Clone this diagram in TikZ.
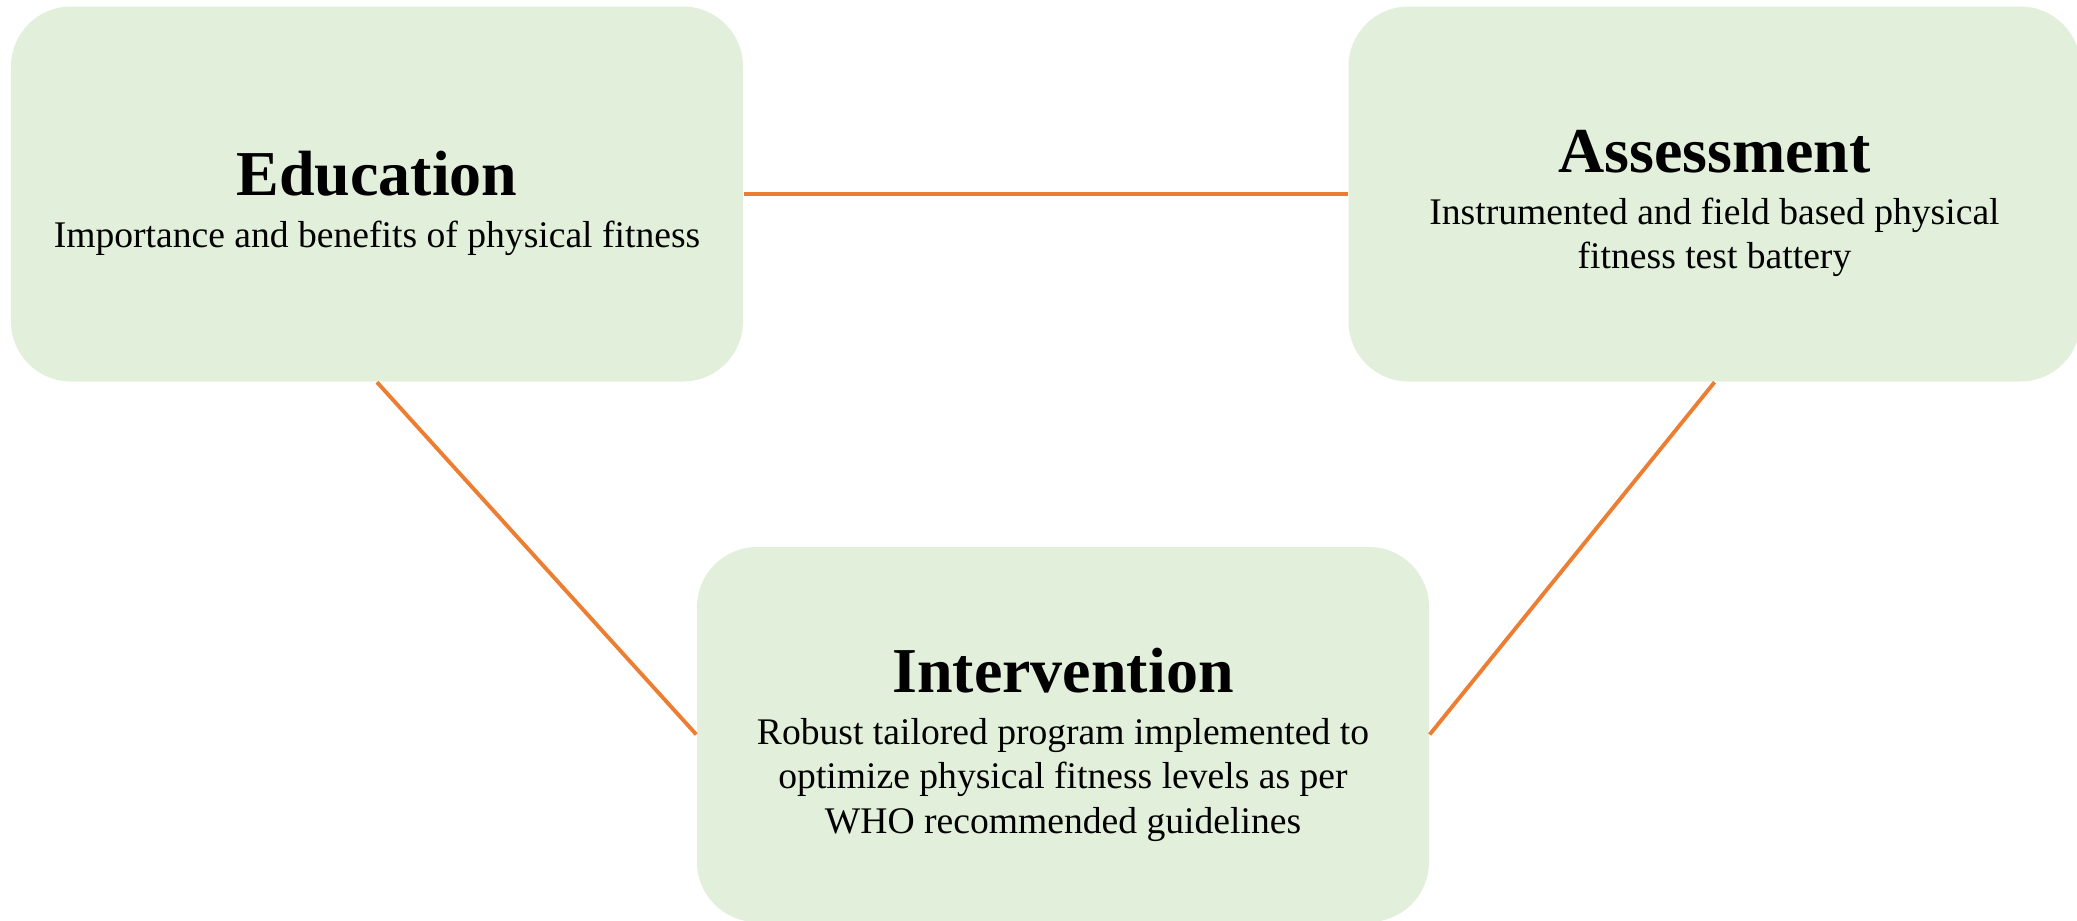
\documentclass[tikz,border=0pt]{standalone}
\usepackage{fontspec}
\setmainfont{Liberation Serif}
\usepackage{tikz}
\definecolor{cardfill}{HTML}{E2EFDA}
\definecolor{linkorange}{HTML}{ED7D31}
\newcommand{\cardtitle}{\fontsize{18.2}{22}\selectfont\bfseries}
\tikzset{
  card/.style     = {draw=none, fill=cardfill, rounded corners=0.6cm,
                     minimum width=7.32cm, minimum height=3.75cm},
  cardtext/.style = {align=center, inner sep=0pt,
                     font=\fontsize{10.7}{12.6}\selectfont},
  linkln/.style   = {linkorange, line width=1.1pt}
}

\begin{document}
\begin{tikzpicture}
  \useasboundingbox (0,0) rectangle (20.77,-9.2);
  % the three cards
  \node[card] (edu)    at (3.77,-1.94)   {};
  \node[card] (assess) at (17.145,-1.94) {};
  \node[card] (interv) at (10.63,-7.345) {};
  % text sits a little below the card centre
  \node[cardtext] (edu-t) at ([yshift=-0.095cm]edu.center)
       {{\cardtitle Education}\\[2.3pt]Importance and benefits of physical fitness};
  \node[cardtext] (assess-t) at ([yshift=-0.095cm]assess.center)
       {{\cardtitle Assessment}\\[2.3pt]Instrumented and field based physical\\fitness test battery};
  \node[cardtext] (interv-t) at ([yshift=-0.1cm]interv.center)
       {{\cardtitle Intervention}\\[2.3pt]Robust tailored program implemented to\\optimize physical fitness levels as per\\WHO recommended guidelines};
  % links
  \draw[linkln] (edu.east) -- (assess.west);
  \draw[linkln] (edu.south) -- (interv.west);
  \draw[linkln] (assess.south) -- (interv.east);
\end{tikzpicture}
\end{document}
